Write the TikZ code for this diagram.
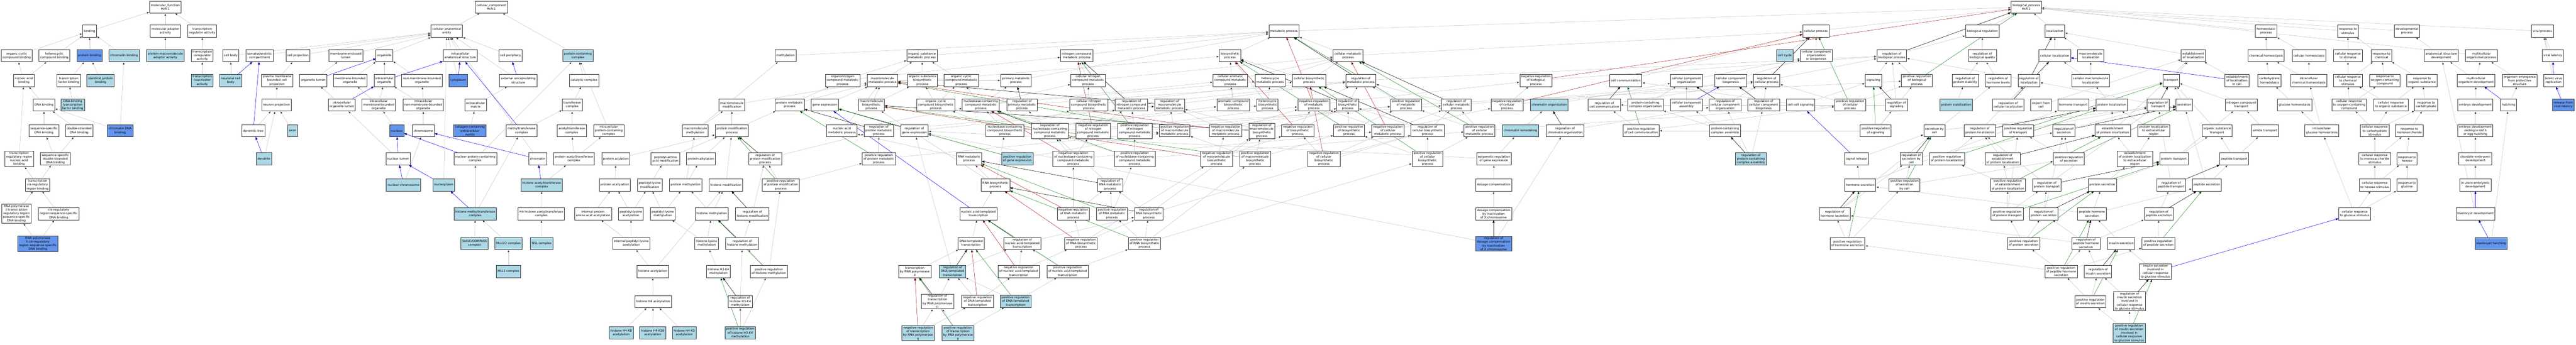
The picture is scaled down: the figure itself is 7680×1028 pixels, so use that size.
\documentclass[tikz,border=0pt]{standalone}
\usepackage{fontspec}
\setmainfont{DejaVu Sans}
\usepackage{tikz}
\usetikzlibrary{arrows.meta}
\usetikzlibrary{backgrounds}
\definecolor{hitblue}{HTML}{ADD8E6}
\definecolor{directblue}{HTML}{6495ED}
\definecolor{isagray}{HTML}{C4C4C4}
\definecolor{posgreen}{HTML}{228B22}
\definecolor{negred}{HTML}{B22222}
\tikzset{
    term/.style={
           rectangle,
           draw=black!80, line width=0.6pt,
           fill=white,
           minimum height=18pt,
           inner xsep=2pt, inner ysep=1pt,
           align=center,
           font=\fontsize{4.5}{5.5}\selectfont,
           },
    hit/.style={term, fill=hitblue},
    direct/.style={term, fill=directblue},
    isa/.style={->, draw=isagray},
    partof/.style={->, draw=blue},
    regul/.style={->, draw=black},
    posreg/.style={->, draw=posgreen},
    negreg/.style={->, draw=negred},
}

\begin{document}
\begin{tikzpicture}[x=0.5pt, y=-0.5pt, line width=0.5pt, >={Triangle[length=4pt,width=3.2pt]}]
      \useasboundingbox (0,0) rectangle (7680,1028);
      % molecular function
      \node[term] (mf) at (493,21) {molecular\_function\\Hcfc1};
      \node[term] (bind) at (267,93) {binding};
      \node[term] (madapt) at (493,93) {molecular adaptor\\activity};
      \node[term] (treg) at (603,93) {transcription\\regulator activity};
      \node[term] (occb) at (50,166) {organic cyclic\\compound binding};
      \node[term] (hcb) at (162,166) {heterocyclic\\compound binding};
      \node[direct] (pbind) at (267,166) {protein binding};
      \node[hit] (chbind) at (370,166) {chromatin binding};
      \node[hit] (pmaa) at (493,166) {protein-macromolecule\\adaptor activity};
      \node[term] (tcoreg) at (603,166) {transcription\\coregulator\\activity};
      \node[term] (nabind) at (71,240) {nucleic acid\\binding};
      \node[term] (tfbind) at (205,240) {transcription\\factor binding};
      \node[hit] (ipbind) at (300,240) {identical protein\\binding};
      \node[hit] (tcoact) at (603,240) {transcription\\coactivator\\activity};
      \node[term] (dnabind) at (131,313) {DNA binding};
      \node[hit] (dbtfb) at (217,313) {DNA-binding\\transcription\\factor binding};
      \node[term] (ssdb) at (131,390) {sequence-specific\\DNA binding};
      \node[term] (dsdb) at (236,390) {double-stranded\\DNA binding};
      \node[direct] (chdnab) at (358,390) {chromatin DNA\\binding};
      \node[term] (trrnab) at (57,474) {transcription\\regulatory region\\nucleic acid\\binding};
      \node[term] (ssdsdb) at (165,474) {sequence-specific\\double-stranded\\DNA binding};
      \node[term] (tcrrb) at (112,552) {transcription\\cis-regulatory\\region binding};
      \node[term] (rnaptrr) at (49,637) {RNA polymerase\\II transcription\\regulatory region\\sequence-specific\\DNA binding};
      \node[term] (crrssdb) at (175,638) {cis-regulatory\\region sequence-specific\\DNA binding};
      \node[direct] (rnapcis) at (113,727) {RNA polymerase\\II cis-regulatory\\region sequence-specific\\DNA binding};
      % cellular component
      \node[term] (cc) at (1465,21) {cellular\_component\\Hcfc1};
      \node[term] (cae) at (1332,93) {cellular anatomical\\entity};
      \node[term] (cbody) at (688,166) {cell body};
      \node[term] (sdcomp) at (774,166) {somatodendritic\\compartment};
      \node[term] (cproj) at (888,166) {cell projection};
      \node[term] (melumen) at (1031,166) {membrane-enclosed\\lumen};
      \node[term] (organelle) at (1146,166) {organelle};
      \node[term] (ias) at (1372,166) {intracellular\\anatomical structure};
      \node[term] (cperiph) at (1522,166) {cell periphery};
      \node[hit] (pcc) at (1723,166) {protein-containing\\complex};
      \node[hit] (ncbody) at (688,240) {neuronal cell\\body};
      \node[term] (pmbcp) at (826,240) {plasma membrane\\bounded cell\\projection};
      \node[term] (olumen) at (934,240) {organelle lumen};
      \node[term] (mbo) at (1044,240) {membrane-bounded\\organelle};
      \node[term] (iorg) at (1146,240) {intracellular\\organelle};
      \node[term] (nmbo) at (1258,240) {non-membrane-bounded\\organelle};
      \node[direct] (cytoplasm) at (1366,240) {cytoplasm};
      \node[term] (ees) at (1545,240) {external encapsulating\\structure};
      \node[term] (catc) at (1741,240) {catalytic complex};
      \node[term] (nproj) at (824,313) {neuron projection};
      \node[term] (iolumen) at (1019,313) {intracellular\\organelle lumen};
      \node[term] (imbo) at (1129,313) {intracellular\\membrane-bounded\\organelle};
      \node[term] (inmbo) at (1262,313) {intracellular\\non-membrane-bounded\\organelle};
      \node[term] (ecm) at (1418,313) {extracellular\\matrix};
      \node[term] (trfc) at (1706,313) {transferase\\complex};
      \node[term] (dtree) at (755,390) {dendritic tree};
      \node[hit] (axon) at (872,390) {axon};
      \node[direct] (nucleus) at (1183,390) {nucleus};
      \node[term] (chromosome) at (1262,390) {chromosome};
      \node[direct] (ccecm) at (1401,390) {collagen-containing\\extracellular\\matrix};
      \node[term] (mtfc) at (1555,390) {methyltransferase\\complex};
      \node[term] (atfc) at (1705,390) {acetyltransferase\\complex};
      \node[term] (ipcc) at (1815,390) {intracellular\\protein-containing\\complex};
      \node[hit] (dendrite) at (787,474) {dendrite};
      \node[term] (nlumen) at (1187,474) {nuclear lumen};
      \node[term] (npcc) at (1417,474) {nuclear protein-containing\\complex};
      \node[term] (chromatin) at (1603,474) {chromatin};
      \node[term] (patfc) at (1711,474) {protein acetyltransferase\\complex};
      \node[hit] (nchrom) at (1203,552) {nuclear chromosome};
      \node[hit] (nucleoplasm) at (1323,552) {nucleoplasm};
      \node[hit] (hatfc) at (1615,552) {histone acetyltransferase\\complex};
      \node[hit] (hmtfc) at (1417,638) {histone methyltransferase\\complex};
      \node[term] (hhatfc) at (1614,638) {H4 histone acetyltransferase\\complex};
      \node[hit] (setc) at (1415,726) {Set1C/COMPASS\\complex};
      \node[hit] (mlltwo) at (1516,726) {MLL1/2 complex};
      \node[hit] (nslc) at (1615,726) {NSL complex};
      \node[hit] (mllone) at (1516,810) {MLL1 complex};
      % biological process
      \node[term] (pacyl) at (1836,474) {protein acylation};
      \node[term] (pacet) at (1833,552) {protein acetylation};
      \node[term] (plmod) at (1937,552) {peptidyl-lysine\\modification};
      \node[term] (ipaaa) at (1768,638) {internal protein\\amino acid acetylation};
      \node[term] (placet) at (1881,638) {peptidyl-lysine\\acetylation};
      \node[term] (plmeth) at (1976,638) {peptidyl-lysine\\methylation};
      \node[term] (iplacet) at (1882,726) {internal peptidyl-lysine\\acetylation};
      \node[term] (hacet) at (1946,810) {histone acetylation};
      \node[term] (hfacet) at (1947,900) {histone H4 acetylation};
      \node[hit] (hkeight) at (1852,993) {histone H4-K8\\acetylation};
      \node[hit] (hksixteen) at (1946,993) {histone H4-K16\\acetylation};
      \node[hit] (hkfive) at (2040,993) {histone H4-K5\\acetylation};
      \node[term] (methyl) at (2342,166) {methylation};
      \node[term] (oncmp) at (2512,240) {organonitrogen\\compound metabolic\\process};
      \node[term] (mmod) at (2182,313) {macromolecule\\modification};
      \node[term] (pmetab) at (2354,313) {protein metabolic\\process};
      \node[term] (geneexp) at (2459,313) {gene expression};
      \node[term] (mbp) at (2598,313) {macromolecule\\biosynthetic\\process};
      \node[term] (mmeth) at (2073,390) {macromolecule\\methylation};
      \node[term] (pmp) at (2182,390) {protein modification\\process};
      \node[term] (nametab) at (2510,390) {nucleic acid\\metabolic process};
      \node[term] (paam) at (1984,474) {peptidyl-amino\\acid modification};
      \node[term] (palk) at (2090,474) {protein alkylation};
      \node[term] (rpmp) at (2281,474) {regulation of\\protein modification\\process};
      \node[term] (pmeth) at (2044,552) {protein methylation};
      \node[term] (hmod) at (2164,552) {histone modification};
      \node[term] (prpmp) at (2328,552) {positive regulation\\of protein modification\\process};
      \node[term] (hmeth) at (2122,638) {histone methylation};
      \node[term] (rhmod) at (2243,638) {regulation of\\histone modification};
      \node[term] (hlmeth) at (2107,726) {histone lysine\\methylation};
      \node[term] (rhmeth) at (2213,726) {regulation of\\histone methylation};
      \node[term] (hthree) at (2142,810) {histone H3-K4\\methylation};
      \node[term] (prhmeth) at (2292,810) {positive regulation\\of histone methylation};
      \node[term] (rhthree) at (2207,900) {regulation of\\histone H3-K4\\methylation};
      \node[hit] (prhthree) at (2207,993) {positive regulation\\of histone H3-K4\\methylation};
      \node[term] (osmp) at (2749,166) {organic substance\\metabolic process};
      \node[term] (ncmp) at (3210,166) {nitrogen compound\\metabolic process};
      \node[term] (mmp) at (2631,240) {macromolecule\\metabolic process};
      \node[term] (osbp) at (2750,240) {organic substance\\biosynthetic\\process};
      \node[term] (ocmp) at (2866,240) {organic cyclic\\compound metabolic\\process};
      \node[term] (pmpr) at (3029,240) {primary metabolic\\process};
      \node[term] (cnmp) at (3244,240) {cellular nitrogen\\compound metabolic\\process};
      \node[term] (ocbp) at (2790,313) {organic cyclic\\compound biosynthetic\\process};
      \node[term] (nbcmp) at (2924,313) {nucleobase-containing\\compound metabolic\\process};
      \node[term] (rpmpr) at (3047,313) {regulation of\\primary metabolic\\process};
      \node[term] (cnbp) at (3246,313) {cellular nitrogen\\compound biosynthetic\\process};
      \node[term] (rpmetab) at (2620,390) {regulation of\\protein metabolic\\process};
      \node[term] (rge) at (2726,390) {regulation of\\gene expression};
      \node[term] (nbcbp) at (2996,390) {nucleobase-containing\\compound biosynthetic\\process};
      \node[term] (rnbcmp) at (3130,391) {regulation of\\nucleobase-containing\\compound metabolic\\process};
      \node[term] (prpmetab) at (2620,474) {positive regulation\\of protein metabolic\\process};
      \node[term] (rnametab) at (2889,474) {RNA metabolic\\process};
      \node[hit] (prge) at (3033,474) {positive regulation\\of gene expression};
      \node[term] (nrnbcmp) at (3200,474) {negative regulation\\of nucleobase-containing\\compound metabolic\\process};
      \node[term] (rnabp) at (2968,552) {RNA biosynthetic\\process};
      \node[term] (natt) at (2917,638) {nucleic acid-templated\\transcription};
      \node[term] (nrrnamp) at (3200,638) {negative regulation\\of RNA metabolic\\process};
      \node[term] (dtt) at (2895,726) {DNA-templated\\transcription};
      \node[term] (rnatt) at (3048,726) {regulation of\\nucleic acid-templated\\transcription};
      \node[term] (nrrnabp) at (3223,726) {negative regulation\\of RNA biosynthetic\\process};
      \node[term] (trnap) at (2727,810) {transcription\\by RNA polymerase\\II};
      \node[hit] (rdtt) at (2840,810) {regulation of\\DNA-templated\\transcription};
      \node[term] (nrnatt) at (3037,810) {negative regulation\\of nucleic acid-templated\\transcription};
      \node[term] (prnatt) at (3183,810) {positive regulation\\of nucleic acid-templated\\transcription};
      \node[term] (rtrnap) at (2795,899) {regulation of\\transcription\\by RNA polymerase\\II};
      \node[term] (nrdtt) at (2914,899) {negative regulation\\of DNA-templated\\transcription};
      \node[hit] (prdtt) at (3028,899) {positive regulation\\of DNA-templated\\transcription};
      \node[hit] (nrtrnap) at (2737,994) {negative regulation\\of transcription\\by RNA polymerase\\II};
      \node[hit] (prtrnap) at (2856,994) {positive regulation\\of transcription\\by RNA polymerase\\II};
      \node[term] (metab) at (3828,93) {metabolic process};
      \node[term] (bsp) at (3667,166) {biosynthetic\\process};
      \node[term] (camp) at (3668,240) {cellular aromatic\\compound metabolic\\process};
      \node[term] (hmp) at (3787,240) {heterocycle\\metabolic process};
      \node[term] (rncmp) at (3373,313) {regulation of\\nitrogen compound\\metabolic process};
      \node[term] (rmmp) at (3487,313) {regulation of\\macromolecule\\metabolic process};
      \node[term] (acbp) at (3677,313) {aromatic compound\\biosynthetic\\process};
      \node[term] (hbp) at (3779,313) {heterocycle\\biosynthetic\\process};
      \node[term] (nrncmp) at (3259,391) {negative regulation\\of nitrogen\\compound metabolic\\process};
      \node[term] (prncmp) at (3383,391) {positive regulation\\of nitrogen\\compound metabolic\\process};
      \node[term] (prmmp) at (3502,390) {positive regulation\\of macromolecule\\metabolic process};
      \node[term] (nrmmp) at (3654,390) {negative regulation\\of macromolecule\\metabolic process};
      \node[term] (rmbp) at (3762,391) {regulation of\\macromolecule\\biosynthetic\\process};
      \node[term] (nrbp) at (3869,390) {negative regulation\\of biosynthetic\\process};
      \node[term] (prnbcmp) at (3383,474) {positive regulation\\of nucleobase-containing\\compound metabolic\\process};
      \node[term] (nrmbp) at (3627,474) {negative regulation\\of macromolecule\\biosynthetic\\process};
      \node[term] (prmbp) at (3742,474) {positive regulation\\of macromolecule\\biosynthetic\\process};
      \node[term] (rrnamp) at (3310,552) {regulation of\\RNA metabolic\\process};
      \node[term] (prrnamp) at (3315,638) {positive regulation\\of RNA metabolic\\process};
      \node[term] (rrnabp) at (3425,638) {regulation of\\RNA biosynthetic\\process};
      \node[term] (prrnabp) at (3412,726) {positive regulation\\of RNA biosynthetic\\process};
      \node[term] (cmp) at (4019,166) {cellular metabolic\\process};
      \node[term] (cbsp) at (3903,240) {cellular biosynthetic\\process};
      \node[term] (rmp) at (4057,240) {regulation of\\metabolic process};
      \node[term] (nrmp) at (3917,313) {negative regulation\\of metabolic\\process};
      \node[term] (rbp) at (4018,313) {regulation of\\biosynthetic\\process};
      \node[term] (prmp) at (4192,313) {positive regulation\\of metabolic\\process};
      \node[term] (rcmp) at (4342,313) {regulation of\\cellular metabolic\\process};
      \node[term] (nrcp) at (4493,313) {negative regulation\\of cellular\\process};
      \node[term] (prbp) at (4022,390) {positive regulation\\of biosynthetic\\process};
      \node[term] (nrcmetp) at (4138,390) {negative regulation\\of cellular\\metabolic process};
      \node[term] (rcbp) at (4256,390) {regulation of\\cellular biosynthetic\\process};
      \node[term] (prcmp) at (4411,390) {positive regulation\\of cellular\\metabolic process};
      \node[hit] (chremod) at (4533,390) {chromatin remodeling};
      \node[term] (nrcbp) at (3947,474) {negative regulation\\of cellular\\biosynthetic\\process};
      \node[term] (prcbp) at (4256,474) {positive regulation\\of cellular\\biosynthetic\\process};
      \node[term] (egrge) at (4454,474) {epigenetic regulation\\of gene expression};
      \node[term] (dcomp) at (4453,552) {dosage compensation};
      \node[term] (dcxi) at (4453,638) {dosage compensation\\by inactivation\\of X chromosome};
      \node[direct] (rdcxi) at (4453,727) {regulation of\\dosage compensation\\by inactivation\\of X chromosome};
      \node[term] (nrbiop) at (4579,240) {negative regulation\\of biological\\process};
      \node[term] (ccomm) at (4847,240) {cell communication};
      \node[term] (cco) at (5028,240) {cellular component\\organization};
      \node[term] (ccb) at (5160,240) {cellular component\\biogenesis};
      \node[hit] (chorg) at (4619,313) {chromatin organization};
      \node[term] (rcc) at (4783,313) {regulation of\\cell communication};
      \node[term] (pcco) at (4906,313) {protein-containing\\complex organization};
      \node[term] (cca) at (5028,313) {cellular component\\assembly};
      \node[term] (rcco) at (5143,313) {regulation of\\cellular component\\organization};
      \node[term] (rchorg) at (4666,390) {regulation of\\chromatin organization};
      \node[term] (prcc) at (4893,390) {positive regulation\\of cell communication};
      \node[term] (pcca) at (5143,390) {protein-containing\\complex assembly};
      \node[term] (cproc) at (5414,93) {cellular process};
      \node[hit] (ccycle) at (5321,166) {cell cycle};
      \node[term] (ccob) at (5415,166) {cellular component\\organization\\or biogenesis};
      \node[term] (rbiop) at (5640,166) {regulation of\\biological process};
      \node[term] (rcp) at (5267,240) {regulation of\\cellular process};
      \node[term] (signaling) at (5585,240) {signaling};
      \node[term] (prbiop) at (5715,240) {positive regulation\\of biological\\process};
      \node[term] (rccb) at (5258,313) {regulation of\\cellular component\\biogenesis};
      \node[term] (ccsig) at (5368,313) {cell-cell signaling};
      \node[term] (prcp) at (5516,313) {positive regulation\\of cellular\\process};
      \node[term] (rsig) at (5654,313) {regulation of\\signaling};
      \node[term] (prsig) at (5592,390) {positive regulation\\of signaling};
      \node[term] (sbc) at (5767,390) {secretion by\\cell};
      \node[hit] (rpcca) at (5220,474) {regulation of\\protein-containing\\complex assembly};
      \node[term] (sigrel) at (5535,474) {signal release};
      \node[term] (rsbc) at (5698,474) {regulation of\\secretion by\\cell};
      \node[term] (prploc) at (5805,474) {positive regulation\\of protein localization};
      \node[term] (hsec) at (5546,552) {hormone secretion};
      \node[term] (prsbc) at (5678,552) {positive regulation\\of secretion\\by cell};
      \node[term] (rhsec) at (5470,638) {regulation of\\hormone secretion};
      \node[term] (prhsec) at (5508,726) {positive regulation\\of hormone secretion};
      \node[term] (bp) at (6041,21) {biological\_process\\Hcfc1};
      \node[term] (bioreg) at (5910,93) {biological regulation};
      \node[term] (loc) at (6126,93) {localization};
      \node[term] (rbq) at (5910,166) {regulation of\\biological quality};
      \node[term] (cloc) at (6126,166) {cellular localization};
      \node[term] (mloc) at (6233,166) {macromolecule\\localization};
      \node[term] (rpstab) at (5859,240) {regulation of\\protein stability};
      \node[term] (rhlev) at (5957,240) {regulation of\\hormone levels};
      \node[term] (rloc) at (6049,240) {regulation of\\localization};
      \node[term] (cmloc) at (6233,240) {cellular macromolecule\\localization};
      \node[hit] (pstab) at (5832,313) {protein stabilization};
      \node[term] (rcloc) at (5987,313) {regulation of\\cellular localization};
      \node[term] (efc) at (6085,313) {export from\\cell};
      \node[term] (htrans) at (6181,313) {hormone transport};
      \node[term] (ploc) at (6296,313) {protein localization};
      \node[term] (rploc) at (5903,390) {regulation of\\protein localization};
      \node[term] (prtrans) at (6017,390) {positive regulation\\of transport};
      \node[term] (rsec) at (6153,390) {regulation of\\secretion};
      \node[term] (eploc) at (6299,390) {establishment\\of protein localization};
      \node[term] (plecr) at (6421,390) {protein localization\\to extracellular\\region};
      \node[term] (rnploc) at (5971,474) {regulation of\\establishment\\of protein localization};
      \node[term] (prsec) at (6168,474) {positive regulation\\of secretion};
      \node[term] (eplecr) at (6365,474) {establishment\\of protein localization\\to extracellular\\region};
      \node[term] (preploc) at (5986,552) {positive regulation\\of establishment\\of protein localization};
      \node[term] (rptrans) at (6102,552) {regulation of\\protein transport};
      \node[term] (psec) at (6268,552) {protein secretion};
      \node[term] (prptrans) at (5984,638) {positive regulation\\of protein transport};
      \node[term] (rpsec) at (6093,638) {regulation of\\protein secretion};
      \node[term] (phsec) at (6237,638) {peptide hormone\\secretion};
      \node[term] (rpepsec) at (6436,638) {regulation of\\peptide secretion};
      \node[term] (prpsec) at (6033,726) {positive regulation\\of protein secretion};
      \node[term] (rphsec) at (6219,726) {regulation of\\peptide hormone\\secretion};
      \node[term] (insec) at (6324,726) {insulin secretion};
      \node[term] (prpepsec) at (6435,726) {positive regulation\\of peptide secretion};
      \node[term] (prphsec) at (6145,810) {positive regulation\\of peptide hormone\\secretion};
      \node[term] (rinsec) at (6255,810) {regulation of\\insulin secretion};
      \node[term] (isccrg) at (6426,810) {insulin secretion\\involved in\\cellular response\\to glucose stimulus};
      \node[term] (prinsec) at (6232,900) {positive regulation\\of insulin secretion};
      \node[term] (rinscc) at (6349,899) {regulation of\\insulin secretion\\involved in\\cellular response\\to glucose stimulus};
      \node[hit] (prinscc) at (6348,994) {positive regulation\\of insulin secretion\\involved in\\cellular response\\to glucose stimulus};
      \node[term] (homeo) at (6756,93) {homeostatic\\process};
      \node[term] (rstim) at (7000,93) {response to\\stimulus};
      \node[term] (eloc) at (6539,166) {establishment\\of localization};
      \node[term] (chomeo) at (6756,166) {chemical homeostasis};
      \node[term] (cellhomeo) at (6884,166) {cellular homeostasis};
      \node[term] (crstim) at (7000,166) {cellular response\\to stimulus};
      \node[term] (transport) at (6473,240) {transport};
      \node[term] (elic) at (6669,240) {establishment\\of localization\\in cell};
      \node[term] (carbhomeo) at (6766,240) {carbohydrate\\homeostasis};
      \node[term] (ichomeo) at (6883,240) {intracellular\\chemical homeostasis};
      \node[term] (crcs) at (7000,240) {cellular response\\to chemical\\stimulus};
      \node[term] (rtrans) at (6434,313) {regulation of\\transport};
      \node[term] (secretion) at (6512,313) {secretion};
      \node[term] (nctrans) at (6682,313) {nitrogen compound\\transport};
      \node[term] (ghomeo) at (6841,313) {glucose homeostasis};
      \node[term] (crocc) at (7004,313) {cellular response\\to oxygen-containing\\compound};
      \node[term] (ostrans) at (6610,390) {organic substance\\transport};
      \node[term] (amtrans) at (6753,390) {amide transport};
      \node[term] (ighomeo) at (6922,390) {intracellular\\glucose homeostasis};
      \node[term] (crcarb) at (7080,390) {cellular response\\to carbohydrate\\stimulus};
      \node[term] (ptrans) at (6481,474) {protein transport};
      \node[term] (peptrans) at (6661,474) {peptide transport};
      \node[term] (crmono) at (7080,474) {cellular response\\to monosaccharide\\stimulus};
      \node[term] (rpeptrans) at (6473,552) {regulation of\\peptide transport};
      \node[term] (pepsec) at (6579,552) {peptide secretion};
      \node[term] (crhex) at (7080,552) {cellular response\\to hexose stimulus};
      \node[term] (crglu) at (7020,638) {cellular response\\to glucose stimulus};
      \node[term] (devp) at (7176,93) {developmental\\process};
      \node[term] (viral) at (7580,93) {viral process};
      \node[term] (rchem) at (7100,166) {response to\\chemical};
      \node[term] (asd) at (7278,166) {anatomical structure\\development};
      \node[term] (mop) at (7398,166) {multicellular\\organismal process};
      \node[term] (vlat) at (7611,166) {viral latency};
      \node[term] (rocc) at (7110,240) {response to\\oxygen-containing\\compound};
      \node[term] (ros) at (7221,240) {response to\\organic substance};
      \node[term] (mod) at (7382,240) {multicellular\\organism development};
      \node[term] (oepfs) at (7512,240) {organism emergence\\from protective\\structure};
      \node[term] (lvr) at (7613,240) {latent virus\\replication};
      \node[term] (cros) at (7128,313) {cellular response\\to organic substance};
      \node[term] (rcarb) at (7233,313) {response to\\carbohydrate};
      \node[term] (embdev) at (7380,313) {embryo development};
      \node[term] (hatching) at (7479,313) {hatching};
      \node[direct] (rfvl) at (7642,313) {release from\\viral latency};
      \node[term] (rmono) at (7183,390) {response to\\monosaccharide};
      \node[term] (edebe) at (7380,390) {embryo development\\ending in birth\\or egg hatching};
      \node[term] (rhex) at (7176,474) {response to\\hexose};
      \node[term] (ced) at (7380,474) {chordate embryonic\\development};
      \node[term] (rglu) at (7176,552) {response to\\glucose};
      \node[term] (iued) at (7380,552) {in utero embryonic\\development};
      \node[term] (blastdev) at (7380,638) {blastocyst development};
      \node[direct] (blasth) at (7427,726) {blastocyst hatching};

      \begin{scope}[on background layer]
      \fill[white] (0,0) rectangle (7680,1028);
      \path[isa]
      (bind) edge (mf) (madapt) edge (mf) (treg) edge (mf)
      (occb) edge (bind) (hcb) edge (bind) (pbind) edge (bind) (chbind) edge (bind)
      (pmaa) edge (madapt) (tcoreg) edge (treg) (nabind) edge (occb) (nabind) edge (hcb)
      (tfbind) edge (pbind) (ipbind) edge (pbind) (tcoact) edge (tcoreg)
      (dnabind) edge (nabind) (dbtfb) edge (tfbind) (ssdb) edge (dnabind) (dsdb) edge (dnabind)
      (chdnab) edge (dnabind) (chdnab) edge (chbind) (trrnab) edge (nabind)
      (ssdsdb) edge (ssdb) (ssdsdb) edge (dsdb) (tcrrb) edge (trrnab) (tcrrb) edge (ssdsdb)
      (rnaptrr) edge (tcrrb) (crrssdb) edge (tcrrb) (rnapcis) edge (rnaptrr) (rnapcis) edge (crrssdb)
      (cae) edge (cc) (pcc) edge (cc)
      (cbody) edge (cae) (sdcomp) edge (cae) (cproj) edge (cae) (melumen) edge (cae)
      (organelle) edge (cae) (ias) edge (cae) (cperiph) edge (cae) (ees) edge (cae)
      (cytoplasm) edge (cae) (chromatin) edge (cae) (nucleoplasm) edge (cae)
      (ncbody) edge (cbody) (pmbcp) edge (cproj) (olumen) edge (melumen)
      (mbo) edge (organelle) (iorg) edge (organelle) (nmbo) edge (organelle)
      (nproj) edge (pmbcp) (iolumen) edge (olumen) (imbo) edge (mbo) (imbo) edge (iorg)
      (inmbo) edge (iorg) (inmbo) edge (nmbo) (dtree) edge (nproj) (axon) edge (nproj)
      (dendrite) edge (nproj) (nucleus) edge (imbo) (chromosome) edge (inmbo)
      (nlumen) edge (iolumen) (nchrom) edge (chromosome) (ecm) edge (ees) (ccecm) edge (ecm)
      (catc) edge (pcc) (trfc) edge (catc) (mtfc) edge (trfc) (atfc) edge (trfc)
      (ipcc) edge (pcc) (npcc) edge (pcc) (patfc) edge (atfc) (patfc) edge (ipcc)
      (hatfc) edge (patfc) (hmtfc) edge (npcc) (hmtfc) edge (mtfc) (setc) edge (hmtfc)
      (mlltwo) edge (hmtfc) (mllone) edge (mlltwo) (nslc) edge (hhatfc) (hhatfc) edge (hatfc)
      (pacet) edge (pacyl) (ipaaa) edge (pacet) (placet) edge (pacet) (placet) edge (plmod)
      (iplacet) edge (ipaaa) (iplacet) edge (placet) (hacet) edge (iplacet) (hacet) edge (hmod)
      (hfacet) edge (hacet) (hkeight) edge (hfacet) (hksixteen) edge (hfacet) (hkfive) edge (hfacet)
      (pacyl) edge (pmp) (plmod) edge (paam) (plmeth) edge (plmod) (plmeth) edge (pmeth)
      (mmeth) edge (methyl) (mmeth) edge (mmod) (pmp) edge (mmod) (pmp) edge (pmetab)
      (methyl) edge (metab) (mmod) edge (mmp) (pmetab) edge (oncmp) (pmetab) edge (mmp)
      (geneexp) edge (mmp) (nametab) edge (nbcmp) (nametab) edge (mmp)
      (paam) edge (pmp) (palk) edge (pmp) (pmeth) edge (palk) (pmeth) edge (mmeth)
      (hmod) edge (pmp) (prpmp) edge (rpmp) (rpmp) edge (rpmetab) (prpmp) edge (prpmetab)
      (hmeth) edge (pmeth) (hmeth) edge (hmod) (rhmod) edge (rpmp) (hlmeth) edge (hmeth)
      (hlmeth) edge (plmeth) (rhmeth) edge (rhmod) (prhmeth) edge (rhmeth) (prhmeth) edge (prpmp)
      (hthree) edge (hlmeth) (rhthree) edge (rhmeth) (prhthree) edge (rhthree) (prhthree) edge (prhmeth)
      (osmp) edge (metab) (ncmp) edge (metab) (pmpr) edge (metab) (oncmp) edge (ncmp) (oncmp) edge (osmp)
      (mmp) edge (osmp) (mmp) edge (pmpr) (mbp) edge (mmp) (mbp) edge (osbp)
      (osbp) edge (osmp) (osbp) edge (bsp) (ocmp) edge (osmp) (cnmp) edge (ncmp) (cnmp) edge (cmp)
      (ocbp) edge (ocmp) (ocbp) edge (osbp) (nbcmp) edge (ocmp) (nbcmp) edge (camp)
      (nbcmp) edge (hmp) (nbcmp) edge (cnmp) (nbcmp) edge (pmpr) (rpmpr) edge (rmp)
      (cnbp) edge (cnmp) (cnbp) edge (cbsp) (rpmetab) edge (rmmp) (rge) edge (rmmp)
      (nbcbp) edge (nbcmp) (nbcbp) edge (ocbp) (nbcbp) edge (acbp) (nbcbp) edge (hbp) (nbcbp) edge (cnbp)
      (rnbcmp) edge (rpmpr) (rnbcmp) edge (rncmp) (rnbcmp) edge (rcmp)
      (prpmetab) edge (rpmetab) (prpmetab) edge (prmmp) (rnametab) edge (nametab)
      (prge) edge (rge) (prge) edge (prmmp) (nrnbcmp) edge (rnbcmp) (nrnbcmp) edge (nrncmp)
      (nrnbcmp) edge (nrcmetp) (rnabp) edge (rnametab) (rnabp) edge (nbcbp) (rnabp) edge (mbp)
      (natt) edge (rnabp) (nrrnamp) edge (rrnamp) (nrrnamp) edge (nrnbcmp) (dtt) edge (natt)
      (rnatt) edge (rrnabp) (nrrnabp) edge (rrnabp) (nrrnabp) edge (nrrnamp) (nrrnabp) edge (nrmbp)
      (trnap) edge (dtt) (rdtt) edge (rnatt) (rdtt) edge (rge) (nrnatt) edge (rnatt) (nrnatt) edge (nrrnabp)
      (prnatt) edge (rnatt) (prnatt) edge (prrnabp) (rtrnap) edge (rdtt) (nrdtt) edge (rdtt)
      (nrdtt) edge (nrnatt) (prdtt) edge (rdtt) (prdtt) edge (prnatt) (nrtrnap) edge (rtrnap)
      (nrtrnap) edge (nrdtt) (prtrnap) edge (rtrnap) (prtrnap) edge (prdtt)
      (bsp) edge (metab) (camp) edge (cmp) (hmp) edge (cmp) (acbp) edge (camp) (acbp) edge (bsp)
      (hbp) edge (hmp) (hbp) edge (bsp) (rncmp) edge (rmp) (rmmp) edge (rmp)
      (nrncmp) edge (rncmp) (nrncmp) edge (nrmp) (prncmp) edge (rncmp) (prncmp) edge (prmp)
      (prmmp) edge (rmmp) (prmmp) edge (prmp) (nrmmp) edge (rmmp) (nrmmp) edge (nrmp)
      (rmbp) edge (rmmp) (rmbp) edge (rbp) (nrbp) edge (rbp) (nrbp) edge (nrmp)
      (prnbcmp) edge (rnbcmp) (prnbcmp) edge (prncmp) (prnbcmp) edge (prcmp)
      (nrmbp) edge (rmbp) (nrmbp) edge (nrmmp) (nrmbp) edge (nrbp)
      (prmbp) edge (rmbp) (prmbp) edge (prmmp) (prmbp) edge (prbp)
      (rrnamp) edge (rnbcmp) (prrnamp) edge (rrnamp) (prrnamp) edge (prnbcmp)
      (rrnabp) edge (rrnamp) (rrnabp) edge (rmbp) (rrnabp) edge (rcbp)
      (prrnabp) edge (rrnabp) (prrnabp) edge (prrnamp) (prrnabp) edge (prmbp) (prrnabp) edge (prcbp)
      (cmp) edge (metab) (cmp) edge (cproc) (cbsp) edge (bsp) (cbsp) edge (cmp) (rmp) edge (rbiop)
      (nrmp) edge (rmp) (nrmp) edge (nrbiop) (rbp) edge (rmp) (prmp) edge (rmp) (prmp) edge (prbiop)
      (rcmp) edge (rmp) (rcmp) edge (rcp) (nrcp) edge (rcp) (nrcp) edge (nrbiop)
      (prbp) edge (rbp) (prbp) edge (prmp) (nrcmetp) edge (rcmp) (nrcmetp) edge (nrmp) (nrcmetp) edge (nrcp)
      (rcbp) edge (rbp) (rcbp) edge (rcmp) (prcmp) edge (rcmp) (prcmp) edge (prmp) (prcmp) edge (prcp)
      (nrcbp) edge (rcbp) (nrcbp) edge (nrbp) (nrcbp) edge (nrcmetp)
      (prcbp) edge (rcbp) (prcbp) edge (prbp) (prcbp) edge (prcmp)
      (egrge) edge (rge) (egrge) edge (chremod) (dcomp) edge (egrge) (dcxi) edge (dcomp)
      (rdcxi) edge (rchorg) (rdcxi) edge (rge) (chremod) edge (chorg)
      (nrbiop) edge (rbiop) (ccomm) edge (cproc) (cco) edge (ccob) (ccb) edge (ccob) (chorg) edge (cco)
      (rcc) edge (rcp) (pcco) edge (cco) (cca) edge (cco) (rcco) edge (rcp) (rchorg) edge (rcco)
      (prcc) edge (rcc) (prcc) edge (prcp) (pcca) edge (pcco) (pcca) edge (cca)
      (ccycle) edge (cproc) (ccob) edge (cproc) (rbiop) edge (bioreg) (rcp) edge (rbiop)
      (signaling) edge (rbiop) (prbiop) edge (rbiop) (rccb) edge (rcp) (ccsig) edge (signaling)
      (ccsig) edge (ccomm) (prcp) edge (rcp) (prcp) edge (prbiop) (rsig) edge (rbiop) (rsig) edge (rcc)
      (prsig) edge (rsig) (prsig) edge (prcc) (prsig) edge (prbiop) (sbc) edge (secretion)
      (rpcca) edge (rcco) (rpcca) edge (rccb) (sigrel) edge (sbc) (rsbc) edge (rsec)
      (prploc) edge (rploc) (hsec) edge (sigrel) (hsec) edge (htrans) (prsbc) edge (rsbc) (prsbc) edge (prsec)
      (rhsec) edge (rsbc) (rhsec) edge (rhlev) (prhsec) edge (rhsec) (prhsec) edge (prsbc)
      (bioreg) edge (bp) (loc) edge (bp) (cproc) edge (bp) (metab) edge (bp)
      (rbq) edge (bioreg) (cloc) edge (loc) (mloc) edge (loc) (rpstab) edge (rbq) (rhlev) edge (rbq)
      (rloc) edge (rbiop) (cmloc) edge (cloc) (cmloc) edge (mloc) (pstab) edge (rpstab)
      (rcloc) edge (rloc) (efc) edge (eloc) (htrans) edge (transport) (ploc) edge (cmloc)
      (rploc) edge (rloc) (prtrans) edge (rtrans) (rsec) edge (rtrans) (eploc) edge (ploc) (eploc) edge (eloc)
      (plecr) edge (ploc) (rnploc) edge (rploc) (prsec) edge (rsec) (prsec) edge (prtrans)
      (eplecr) edge (eploc) (eplecr) edge (plecr) (preploc) edge (rnploc) (preploc) edge (prploc)
      (rptrans) edge (rploc) (rptrans) edge (rtrans) (psec) edge (eplecr) (psec) edge (ptrans)
      (prptrans) edge (rptrans) (prptrans) edge (preploc) (prptrans) edge (prtrans)
      (rpsec) edge (rptrans) (rpsec) edge (rsec) (phsec) edge (psec) (phsec) edge (hsec) (phsec) edge (pepsec)
      (rpepsec) edge (rpeptrans) (prpsec) edge (prptrans) (prpsec) edge (rpsec)
      (rphsec) edge (rhsec) (rphsec) edge (rpepsec) (rphsec) edge (rpsec) (insec) edge (phsec)
      (prpepsec) edge (rpepsec) (prphsec) edge (rphsec) (prphsec) edge (prhsec) (prphsec) edge (prpepsec)
      (prphsec) edge (prpsec) (rinsec) edge (rphsec) (isccrg) edge (insec)
      (prinsec) edge (rinsec) (prinsec) edge (prphsec) (rinscc) edge (rinsec)
      (prinscc) edge (rinscc) (prinscc) edge (prinsec)
      (homeo) edge (bp) (rstim) edge (bp) (devp) edge (bp) (mop) edge (bp) (viral) edge (bp)
      (eloc) edge (loc) (chomeo) edge (homeo) (cellhomeo) edge (homeo) (crstim) edge (rstim)
      (transport) edge (eloc) (elic) edge (eloc) (carbhomeo) edge (chomeo) (ichomeo) edge (chomeo)
      (ichomeo) edge (cellhomeo) (crcs) edge (crstim) (crcs) edge (rchem) (rtrans) edge (rloc)
      (secretion) edge (transport) (nctrans) edge (transport) (ghomeo) edge (carbhomeo)
      (crocc) edge (crcs) (crocc) edge (rocc) (ostrans) edge (transport) (amtrans) edge (nctrans)
      (ighomeo) edge (ghomeo) (ighomeo) edge (ichomeo) (crcarb) edge (crocc) (crcarb) edge (rcarb)
      (crcarb) edge (cros) (ptrans) edge (ostrans) (ptrans) edge (nctrans)
      (peptrans) edge (ostrans) (peptrans) edge (amtrans) (crmono) edge (crcarb) (crmono) edge (rmono)
      (rpeptrans) edge (rtrans) (pepsec) edge (peptrans) (pepsec) edge (secretion)
      (crhex) edge (crmono) (crhex) edge (rhex) (crglu) edge (crhex) (crglu) edge (rglu) (crglu) edge (ighomeo)
      (rchem) edge (rstim) (asd) edge (devp) (rocc) edge (rchem) (ros) edge (rchem)
      (mod) edge (asd) (mod) edge (mop) (oepfs) edge (mop) (cros) edge (ros) (cros) edge (crcs)
      (rcarb) edge (ros) (embdev) edge (mod) (hatching) edge (oepfs) (edebe) edge (embdev)
      (ced) edge (edebe) (iued) edge (ced) (blastdev) edge (asd) (blasth) edge (hatching)
      (rmono) edge (rcarb) (rhex) edge (rmono) (rglu) edge (rhex)
      (vlat) edge (viral) (lvr) edge (viral) (rfvl) edge (viral);
      \path[partof]
      (ncbody) edge (sdcomp) (olumen) edge (organelle) (iorg) edge (ias) (iolumen) edge (iorg)
      (dtree) edge (sdcomp) (dendrite) edge (dtree) (nlumen) edge (nucleus) (nchrom) edge (nlumen)
      (npcc) edge (nucleus) (nucleoplasm) edge (nlumen) (chromatin) edge (chromosome)
      (cytoplasm) edge (ias) (ees) edge (cperiph) (mtfc) edge (ias) (hatfc) edge (chromatin)
      (hmtfc) edge (nucleoplasm) (natt) edge (geneexp) (sigrel) edge (ccsig) (isccrg) edge (crglu)
      (elic) edge (cloc) (cca) edge (ccb) (hatching) edge (mod)
      (blastdev) edge (iued) (blasth) edge (blastdev) (lvr) edge (vlat) (rfvl) edge (lvr);
      \path[regul]
      (rpmp) edge (pmp) (rhmod) edge (hmod) (rhmeth) edge (hmeth) (rhthree) edge (hthree)
      (rpmetab) edge (pmetab) (rge) edge (geneexp) (rpmpr) edge (pmpr) (rnbcmp) edge (nbcmp)
      (rrnamp) edge (rnametab) (rrnabp) edge (rnabp) (rnatt) edge (natt) (rdtt) edge (dtt)
      (rtrnap) edge (trnap) (rncmp) edge (ncmp) (rmmp) edge (mmp) (rmbp) edge (mbp)
      (rmp) edge (metab) (rcmp) edge (cmp) (rbp) edge (bsp) (rcbp) edge (cbsp) (rdcxi) edge (dcxi)
      (rcc) edge (ccomm) (rchorg) edge (chorg) (rcco) edge (cco) (rccb) edge (ccb) (rpcca) edge (pcca)
      (rcp) edge (cproc) (rbiop) edge (bp) (rsig) edge (signaling) (rsbc) edge (sbc) (rhsec) edge (hsec)
      (rloc) edge (loc) (rcloc) edge (cloc) (rploc) edge (ploc) (rsec) edge (secretion)
      (rnploc) edge (eploc) (rptrans) edge (ptrans) (rpsec) edge (psec) (rphsec) edge (phsec)
      (rinsec) edge (insec) (rinscc) edge (isccrg) (rtrans) edge (transport)
      (rpeptrans) edge (peptrans) (rpepsec) edge (pepsec);
      \path[posreg]
      (prpmp) edge (pmp) (prhmeth) edge (hmeth) (prhthree) edge (hthree) (prpmetab) edge (pmetab)
      (prge) edge (geneexp) (prnbcmp) edge (nbcmp) (prrnamp) edge (rnametab) (prrnabp) edge (rnabp)
      (prnatt) edge (natt) (prdtt) edge (dtt) (prtrnap) edge (trnap) (prncmp) edge (ncmp)
      (prmmp) edge (mmp) (prmbp) edge (mbp) (prmp) edge (metab) (prcmp) edge (cmp) (prbp) edge (bsp)
      (prcbp) edge (cbsp) (prcc) edge (ccomm) (prcp) edge (cproc) (prbiop) edge (bp)
      (prsig) edge (signaling) (prsbc) edge (sbc) (prhsec) edge (hsec) (prtrans) edge (transport)
      (prploc) edge (ploc) (prsec) edge (secretion) (preploc) edge (eploc) (prptrans) edge (ptrans)
      (prpsec) edge (psec) (prphsec) edge (phsec) (prinsec) edge (insec) (prinscc) edge (isccrg)
      (prpepsec) edge (pepsec);
      \path[negreg]
      (nrnbcmp) edge (nbcmp) (nrrnamp) edge (rnametab) (nrrnabp) edge (rnabp) (nrnatt) edge (natt)
      (nrdtt) edge (dtt) (nrtrnap) edge (trnap) (nrncmp) edge (ncmp) (nrmmp) edge (mmp)
      (nrmbp) edge (mbp) (nrmp) edge (metab) (nrcmetp) edge (cmp) (nrbp) edge (bsp)
      (nrcbp) edge (cbsp) (nrcp) edge (cproc) (nrbiop) edge (bp);
      \end{scope}
\end{tikzpicture}
\end{document}
